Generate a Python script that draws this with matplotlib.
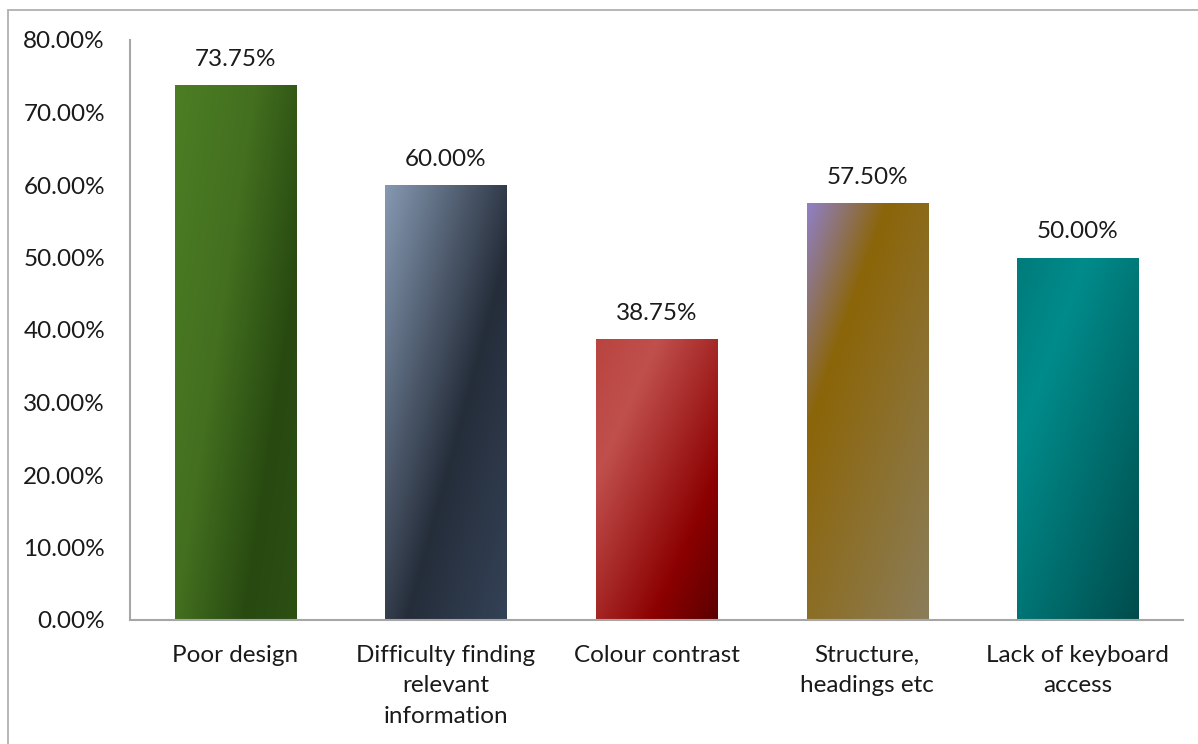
import numpy as np
import matplotlib
matplotlib.use("Agg")
import matplotlib.pyplot as plt
from matplotlib.colors import LinearSegmentedColormap
from matplotlib.patches import Rectangle
from matplotlib.ticker import FuncFormatter

categories = ["Poor design", "Difficulty finding\nrelevant\ninformation", "Colour contrast",
              "Structure,\nheadings etc", "Lack of keyboard\naccess"]
values = [73.75, 60.00, 38.75, 57.50, 50.00]
value_labels = ["73.75%", "60.00%", "38.75%", "57.50%", "50.00%"]

# gradient stops per bar and slant of the stripe (dx/dy in pixels)
gradients = [
    ([(0, "#4c7e24"), (0.4, "#436f1f"), (0.74, "#284a11"), (1, "#2c4f14")], 0.15),
    ([(0, "#8699b2"), (0.585, "#252d3a"), (1, "#344257")], 0.27),
    ([(0, "#b9443f"), (0.25, "#c0504d"), (0.74, "#8b0000"), (1, "#5c0000")], 0.45),
    ([(0, "#9080c8"), (0.30, "#8b6508"), (1, "#8b7d5a")], 0.35),
    ([(0, "#007b7b"), (0.27, "#008b8b"), (1, "#004c4c")], 0.37),
]

plt.rcParams["font.family"] = ["Lato", "DejaVu Sans"]

fig = plt.figure(figsize=(11.98, 7.44), dpi=100)
ax = fig.add_axes([130 / 1198, 124 / 744, 1053 / 1198, 580 / 744])

# outer chart frame
fig.patches.append(Rectangle((8 / 1198, -0.1), 1.2, 0.1 + 734 / 744, transform=fig.transFigure,
                             fill=False, edgecolor="#b0b0b0", linewidth=1.3))

x = np.arange(len(values))
width = 0.575
bars = ax.bar(x, values, width=width, facecolor="none", edgecolor="none")

px_x = 1053 / 5
px_y = 580 / 80
for bar, val, (stops, k) in zip(bars, values, gradients):
    W = width * px_x
    H = val * px_y
    u = np.linspace(0, 1, 200)[None, :]
    v = np.linspace(0, 1, 400)[:, None]
    t = (u * W + k * v * H) / (W + k * H)
    cmap = LinearSegmentedColormap.from_list("g", stops)
    x0 = bar.get_x()
    im = ax.imshow(t, cmap=cmap, vmin=0, vmax=1, origin="upper", aspect="auto",
                   extent=(x0, x0 + width, 0, val), interpolation="bilinear", zorder=2)
    im.set_clip_path(bar)

for xi, val, lab in zip(x, values, value_labels):
    ax.annotate(lab, (xi, val), xytext=(0, 11), textcoords="offset points",
                ha="center", va="bottom", fontsize=17.5, color="#1a1a1a")

ax.set_xlim(-0.5, len(values) - 0.5)
ax.set_ylim(0, 80)
ax.set_yticks(np.arange(0, 81, 10))
ax.yaxis.set_major_formatter(FuncFormatter(lambda v, p: f"{v:.2f}%"))
ax.set_xticks(x)
ax.set_xticklabels(categories, linespacing=1.55)
ax.tick_params(axis="both", length=0, labelsize=17.5, colors="#1a1a1a")
ax.tick_params(axis="y", pad=18)
ax.tick_params(axis="x", pad=18)

for s in ["top", "right"]:
    ax.spines[s].set_visible(False)
for s in ["left", "bottom"]:
    ax.spines[s].set_color("#a6a6a6")
    ax.spines[s].set_linewidth(1.5)

fig.savefig("out.png", dpi=100)
